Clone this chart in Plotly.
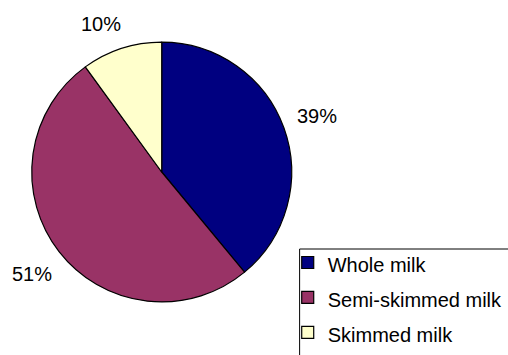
import math
import plotly.graph_objects as go

# Share of milk types consumed (percent)
categories = ["Whole milk", "Semi-skimmed milk", "Skimmed milk"]
shares = [39, 51, 10]
slice_colors = ["#000080", "#993366", "#FFFFCC"]

W, H = 508, 355
FONT = "Arial, 'Liberation Sans', sans-serif"

# Pie placement in paper coordinates
dom_x = [0.063, 0.5787]
dom_y = [0.1465, 0.8845]

# Legend entries: larger base font gives taller rows, inner span keeps text size
legend_names = ['<span style="font-size:20px">%s</span>' % c for c in categories]

fig = go.Figure(
    go.Pie(
        labels=legend_names,
        values=shares,
        sort=False,
        direction="clockwise",
        rotation=0,
        textinfo="none",
        hoverinfo="label+percent",
        marker=dict(colors=slice_colors, line=dict(color="#000000", width=1.2)),
        domain=dict(x=dom_x, y=dom_y),
    )
)

# Percentage labels placed outside each slice at its mid-angle.
# The label box keeps a fixed gap from the rim; a label that would leave
# the top of the figure slides along the rim until it fits.
cx = (dom_x[0] + dom_x[1]) / 2 * W
cy = (1 - (dom_y[0] + dom_y[1]) / 2) * H
r = min((dom_x[1] - dom_x[0]) * W, (dom_y[1] - dom_y[0]) * H) / 2
gap, half_w, half_h = 12, 21, 10
top_limit = 24


def label_dist(phi):
    return r + gap + half_w * abs(math.sin(phi)) + half_h * abs(math.cos(phi))


total = sum(shares)
start = 0.0
annotations = []
for v in shares:
    phi = (start + v / 2) / total * 2 * math.pi
    start += v
    d = label_dist(phi)
    if cy - d * math.cos(phi) < top_limit:
        side = 1 if math.sin(phi) >= 0 else -1
        for _ in range(20):
            c = min((cy - top_limit) / d, 1.0)
            phi = side * math.acos(c)
            d = label_dist(phi)
    px = cx + d * math.sin(phi)
    py = cy - d * math.cos(phi)
    annotations.append(
        dict(
            x=px / W, y=1 - py / H, xref="paper", yref="paper",
            text="%d%%" % round(100 * v / total),
            showarrow=False, xanchor="center", yanchor="middle",
            font=dict(family=FONT, size=20, color="#000000"),
        )
    )

# Legend frame: open towards the right and bottom edges of the figure
frame = dict(
    type="rect", xref="paper", yref="paper",
    x0=302 / W, x1=1.1, y0=-0.1, y1=1 - 249 / H,
    line=dict(color="#000000", width=1), fillcolor="#FFFFFF", layer="below",
)

fig.update_layout(
    width=W,
    height=H,
    margin=dict(l=0, r=0, t=0, b=0),
    paper_bgcolor="#FFFFFF",
    plot_bgcolor="#FFFFFF",
    annotations=annotations,
    shapes=[frame],
    showlegend=True,
    legend=dict(
        x=290 / W, y=0, xanchor="left", yanchor="bottom",
        bgcolor="rgba(0,0,0,0)", borderwidth=0,
        font=dict(family=FONT, size=24.6, color="#000000"),
        traceorder="normal",
    ),
)

fig.write_html("out.html")
